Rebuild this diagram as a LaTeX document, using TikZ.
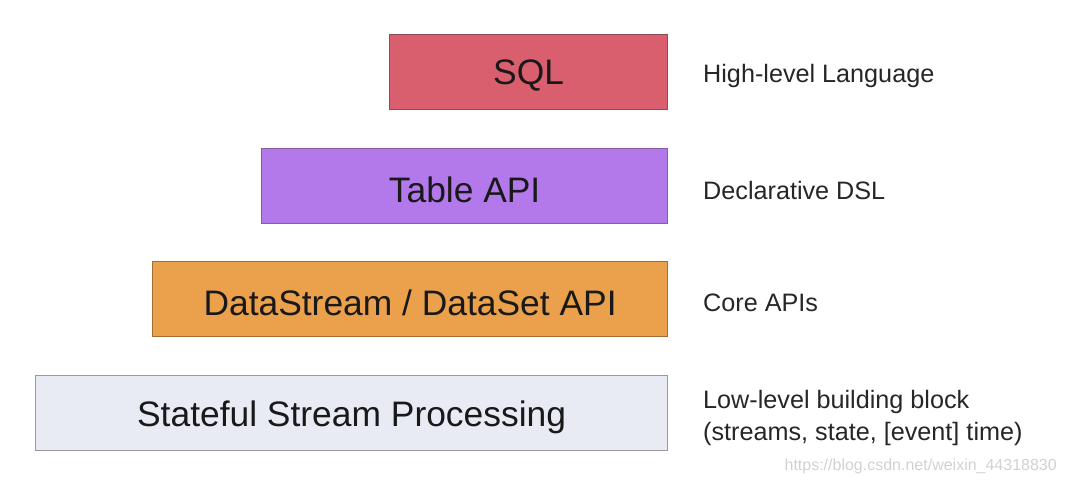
\documentclass[tikz,border=0pt]{standalone}
\usepackage{fontspec}
\setmainfont{Liberation Sans}
\begin{document}
\begin{tikzpicture}[x=1pt,y=1pt,
  layer/.style={draw, line width=1.2pt, anchor=south west, inner sep=0pt, text=black!90},
  layertext/.style={font=\fontsize{35.4}{40}\selectfont, text=black!90, yshift=-4pt},
  desc/.style={anchor=west, font=\fontsize{25.2}{32}\selectfont, text=black!85, align=left, inner sep=0pt},
  wm/.style={anchor=east, font=\fontsize{16}{18}\selectfont, text=black!18, inner sep=0pt}]
\useasboundingbox (0,0) rectangle (1066,483);
\definecolor{sqlfill}{HTML}{D95F6E}
\definecolor{sqldraw}{HTML}{8C4A52}
\definecolor{tabfill}{HTML}{B378EA}
\definecolor{tabdraw}{HTML}{8A5CA8}
\definecolor{dsfill}{HTML}{EBA04B}
\definecolor{dsdraw}{HTML}{A36C32}
\definecolor{ssfill}{HTML}{E8EBF3}
\definecolor{ssdraw}{HTML}{9A9A9E}
\node[layer, fill=sqlfill, draw=sqldraw, minimum width=278pt, minimum height=75pt] (sql) at (389,373) {};
\node[layer, fill=tabfill, draw=tabdraw, minimum width=406pt, minimum height=75pt] (tab) at (261,259) {};
\node[layer, fill=dsfill, draw=dsdraw, minimum width=515pt, minimum height=75pt] (ds) at (152,146) {};
\node[layer, fill=ssfill, draw=ssdraw, minimum width=632pt, minimum height=75pt] (ss) at (35,32) {};
\node[layertext] (sqlt) at (sql.center) {SQL};
\node[layertext] (tabt) at (tab.center) {Table API};
\node[layertext] (dst) at (ds.center) {DataStream / DataSet API};
\node[layertext] (sst) at (ss.center) {Stateful Stream Processing};
\node[desc] (d1) at (703,407) {High-level Language};
\node[desc] (d2) at (703,293) {Declarative DSL};
\node[desc] (d3) at (703,180) {Core APIs};
\node[desc] (d4) at (703,65) {Low-level building block\\(streams, state, [event] time)};
\node[wm] (w) at (1057,17) {https://blog.csdn.net/weixin\_44318830};
\end{tikzpicture}
\end{document}
